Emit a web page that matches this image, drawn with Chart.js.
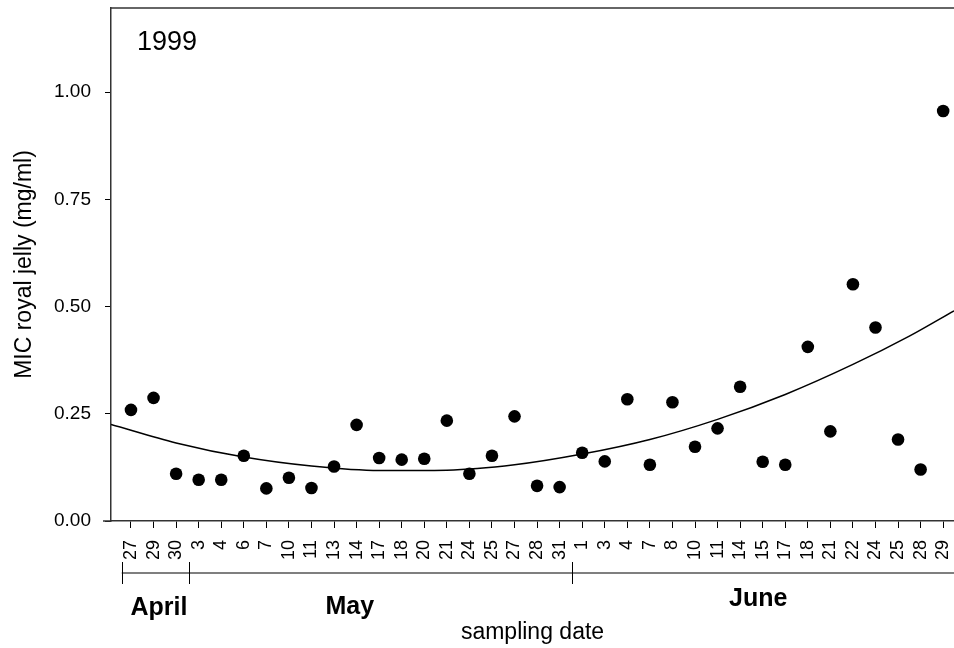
<!DOCTYPE html>
<html>
<head>
<meta charset="utf-8">
<script src="https://cdn.jsdelivr.net/npm/chart.js@4.4.1/dist/chart.umd.min.js"></script>
<style>
  html, body { margin: 0; padding: 0; background: #fff; }
  #wrap { width: 954px; height: 648px; }
</style>
</head>
<body>
<div id="wrap"><canvas id="micChart"></canvas></div>
<script>
// sampling dates (day of month), April 27 .. June 29
var dateLabels = ['27', '29', '30',
  '3', '4', '6', '7', '10', '11', '13', '14', '17', '18', '20', '21', '24', '25', '27', '28', '31',
  '1', '3', '4', '7', '8', '10', '11', '14', '15', '17', '18', '21', '22', '24', '25', '28', '29'];
var monthNames = ['April', 'May', 'June'];
var monthStart = [0, 3, 20];

// MIC of royal jelly (mg/ml) per sampling date
var micValues = [0.259, 0.287, 0.110,
  0.096, 0.096, 0.152, 0.076, 0.101, 0.077, 0.127, 0.224, 0.147, 0.143, 0.145, 0.234, 0.110, 0.152, 0.244, 0.082, 0.079,
  0.159, 0.139, 0.284, 0.131, 0.277, 0.173, 0.216, 0.313, 0.138, 0.131, 0.406, 0.209, 0.552, 0.451, 0.190, 0.120, 0.956];

// fitted trend curve (x = position of sampling date)
var fitX = [-0.886, 2, 5, 8, 11, 14, 17, 20, 23, 26, 29, 32, 34.5, 36.48];
var fitY = [0.225, 0.182, 0.149, 0.128, 0.1175, 0.1185, 0.131, 0.156, 0.190, 0.237, 0.295, 0.365, 0.431, 0.490];

var yTicks = [0, 0.25, 0.5, 0.75, 1.0];

Chart.defaults.font.family = '"Liberation Sans", Arial, sans-serif';
Chart.defaults.color = '#000';

function noPadding(scale) {
  scale.paddingTop = 0;
  scale.paddingBottom = 0;
  scale.paddingLeft = 0;
  scale.paddingRight = 0;
}

var extras = {
  id: 'extras',
  afterDraw: function (chart) {
    var ctx = chart.ctx;
    var area = chart.chartArea;
    var xs = chart.scales.x;
    ctx.save();
    ctx.strokeStyle = '#333';
    ctx.lineWidth = 1.5;
    // top frame line
    ctx.beginPath();
    ctx.moveTo(area.left, area.top);
    ctx.lineTo(chart.width, area.top);
    ctx.stroke();
    // x axis line runs a little past the y axis
    ctx.beginPath();
    ctx.moveTo(area.left - 8, area.bottom);
    ctx.lineTo(area.left, area.bottom);
    ctx.stroke();

    // month brackets
    var bracketY = 573;
    var bounds = monthStart.map(function (s, i) { return i === 0 ? s - 0.41 : s - 0.43; });
    ctx.strokeStyle = '#555';
    ctx.lineWidth = 1.5;
    ctx.beginPath();
    ctx.moveTo(xs.getPixelForValue(bounds[0]), bracketY);
    ctx.lineTo(chart.width, bracketY);
    ctx.stroke();
    ctx.strokeStyle = '#000';
    ctx.lineWidth = 1;
    bounds.forEach(function (b) {
      var px = Math.round(xs.getPixelForValue(b)) + 0.5;
      ctx.beginPath();
      ctx.moveTo(px, bracketY - 11);
      ctx.lineTo(px, bracketY + 11);
      ctx.stroke();
    });

    // month names
    var monthCenter = [1.24, 9.7, 27.8];
    var monthBase = [615, 614, 606];
    ctx.fillStyle = '#000';
    ctx.font = 'bold 25px "Liberation Sans", Arial, sans-serif';
    ctx.textAlign = 'center';
    ctx.textBaseline = 'alphabetic';
    monthNames.forEach(function (m, i) {
      ctx.fillText(m, xs.getPixelForValue(monthCenter[i]), monthBase[i]);
    });

    // year tag
    ctx.font = '27px "Liberation Sans", Arial, sans-serif';
    ctx.textAlign = 'left';
    ctx.fillText('1999', 137, 50);
    ctx.restore();
  }
};

var micChart = new Chart(document.getElementById('micChart'), {
  type: 'scatter',
  data: {
    datasets: [
      {
        label: 'MIC',
        data: micValues.map(function (v, i) { return { x: i, y: v }; }),
        backgroundColor: '#000',
        borderColor: '#000',
        borderWidth: 0,
        pointRadius: 6.3,
      },
      {
        type: 'line',
        label: 'fit',
        data: fitX.map(function (x, i) { return { x: x, y: fitY[i] }; }),
        borderColor: '#000',
        borderWidth: 1.5,
        pointRadius: 0,
        cubicInterpolationMode: 'monotone',
        fill: false,
      },
    ],
  },
  options: {
    responsive: true,
    maintainAspectRatio: false,
    animation: false,
    events: [],
    layout: { autoPadding: false, padding: { top: 8, left: 0, right: 0, bottom: 0 } },
    plugins: {
      legend: { display: false },
      tooltip: { enabled: false },
    },
    scales: {
      x: {
        type: 'linear',
        min: -0.886,
        max: 36.48,
        afterBuildTicks: function (scale) {
          scale.ticks = dateLabels.map(function (d, i) { return { value: i }; });
        },
        afterFit: function (scale) {
          scale.height = 127;
          noPadding(scale);
        },
        ticks: {
          autoSkip: false,
          minRotation: 90,
          maxRotation: 90,
          padding: 12,
          font: { size: 18 },
          callback: function (value) { return dateLabels[value]; },
        },
        grid: { display: true, drawOnChartArea: false, drawTicks: true, tickLength: 7, color: '#000' },
        border: { display: true, color: '#333', width: 1.5 },
        title: {
          display: true,
          text: 'sampling date',
          font: { size: 23 },
          padding: { top: 0, bottom: 2 },
        },
      },
      y: {
        min: 0,
        max: 1.196,
        afterBuildTicks: function (scale) {
          scale.ticks = yTicks.map(function (v) { return { value: v }; });
        },
        afterFit: function (scale) {
          scale.width = 111;
          noPadding(scale);
        },
        ticks: {
          padding: 14,
          font: { size: 19 },
          callback: function (value) { return value.toFixed(2); },
        },
        grid: { display: true, drawOnChartArea: false, drawTicks: true, tickLength: 6, color: '#000' },
        border: { display: true, color: '#333', width: 1.5 },
        title: {
          display: true,
          text: 'MIC royal jelly (mg/ml)',
          font: { size: 23 },
          padding: { top: 11, bottom: 0 },
        },
      },
    },
  },
  plugins: [extras],
});
</script>
</body>
</html>
